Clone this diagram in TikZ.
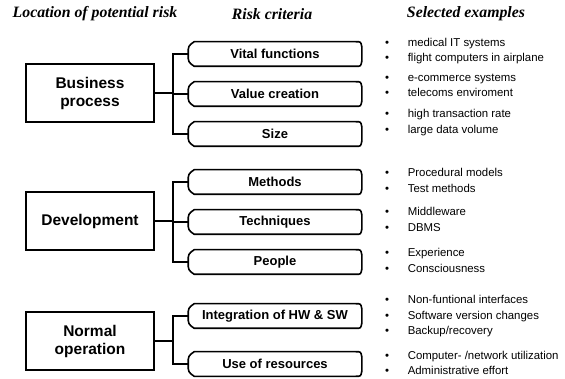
\documentclass[tikz,border=0pt]{standalone}
\usepackage{fontspec}
\setmainfont{Liberation Serif}
\setsansfont{Liberation Sans}
\begin{document}
\begin{tikzpicture}[x=1pt,y=-1pt,
  line width=1.6pt,
  header/.style={inner sep=0, font=\rmfamily\bfseries\itshape\fontsize{15.8}{18}\selectfont},
  location/.style={draw, minimum width=128pt, minimum height=58pt, inner sep=0,
    align=center, font=\sffamily\bfseries\fontsize{15.5}{18}\selectfont},
  criterion/.style={minimum width=172pt, minimum height=23pt, inner sep=0,
    font=\sffamily\bfseries\fontsize{13}{15}\selectfont},
  example/.style={anchor=mid west, inner sep=0, font=\sffamily\fontsize{11.4}{13}\selectfont},
  bulletmark/.style={anchor=mid, inner sep=0, font=\sffamily\fontsize{11.4}{13}\selectfont},
  link/.style={line width=1.6pt}]
\useasboundingbox (0,0) rectangle (565,379);

% column headings
\node[header] (h1) at (95,14) {Location of potential risk};
\node[header] (h2) at (272,14) {Risk criteria};
\node[header] (h3) at (466,14) {Selected examples};

% locations of potential risk
\node[location] (bp)  at (90,93)  {Business\\process};
\node[location] (dev) at (90,221) {Development};
\node[location] (nop) at (90,341) {Normal\\operation};

% risk criteria
\node[criterion] (vital) at (275,54)  {Vital functions};
\node[criterion] (value) at (275,94)  {Value creation};
\node[criterion] (size)  at (275,134) {Size};
\node[criterion] (meth)  at (275,182) {Methods};
\node[criterion] (tech)  at (275,222) {Techniques};
\node[criterion] (peop)  at (275,262) {People};
\node[criterion] (integ) at (275,316) {Integration of HW \& SW};
\node[criterion] (useres) at (275,364) {Use of resources};

% outline of the criterion tags
\foreach \n in {vital,value,size,meth,tech,peop,integ,useres}{
  \draw (\n.west) .. controls ([yshift=8pt]\n.west) .. ([xshift=6pt]\n.north west)
    -- ([xshift=-6pt]\n.north east)
    .. controls ([xshift=-1pt]\n.north east) .. ([yshift=-5pt]\n.north east)
    -- ([yshift=5pt]\n.south east)
    .. controls ([xshift=-1pt]\n.south east) .. ([xshift=-6pt]\n.south east)
    -- ([xshift=6pt]\n.south west)
    .. controls ([yshift=-8pt]\n.west) .. cycle;
}

% branching connectors
\coordinate (s1) at (173,93);
\coordinate (s2) at (173,221);
\coordinate (s3) at (173,341);
\draw[link] (bp.east) -- (s1);
\draw[link] (vital.west) -| (s1);
\draw[link] (size.west) -| (s1);
\draw[link] (value.west) -- (value.west -| s1);
\draw[link] (dev.east) -- (s2);
\draw[link] (meth.west) -| (s2);
\draw[link] (peop.west) -| (s2);
\draw[link] (tech.west) -- (tech.west -| s2);
\draw[link] (nop.east) -- (s3);
\draw[link] (integ.west) -| (s3);
\draw[link] (useres.west) -| (s3);

% selected examples
\foreach \i/\y/\t in {
  1/44/{medical IT systems},
  2/59/{flight computers in airplane},
  3/79/{e-commerce systems},
  4/94/{telecoms enviroment},
  5/115/{high transaction rate},
  6/131/{large data volume},
  7/174/{Procedural models},
  8/190/{Test methods},
  9/213/{Middleware},
  10/229/{DBMS},
  11/254/{Experience},
  12/270/{Consciousness},
  13/301/{Non-funtional interfaces},
  14/317/{Software version changes},
  15/332/{Backup/recovery},
  16/357/{Computer- /network utilization},
  17/372/{Administrative effort}}{
  \node[bulletmark] (b\i) at (387,\y) {\textbullet};
  \node[example] (e\i) at (407,\y) {\t};
}
\end{tikzpicture}
\end{document}
